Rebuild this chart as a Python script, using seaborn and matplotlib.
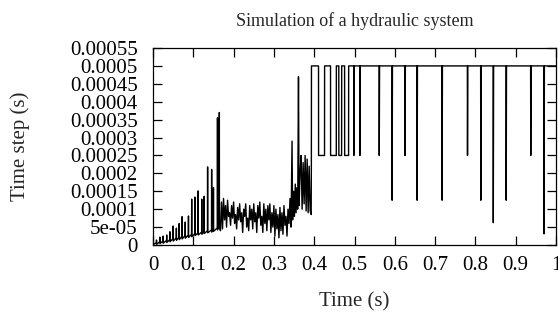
import matplotlib
matplotlib.use('Agg')
import matplotlib.pyplot as plt
import seaborn as sns
import pandas as pd

# early phase: sawtooth spikes (time, peak, value before spike, value after drop)
spike_t = [0.0087, 0.017, 0.025, 0.034, 0.042, 0.050, 0.058, 0.065, 0.072, 0.080,
           0.088, 0.096, 0.104, 0.112, 0.121, 0.127, 0.1355, 0.1455, 0.150, 0.160, 0.1646]
spike_peak = [1.4e-5, 2.2e-5, 2.5e-5, 2.8e-5, 3.7e-5, 5.3e-5, 4.7e-5, 6.0e-5, 7.9e-5, 6.4e-5,
              8.1e-5, 1.28e-4, 1.34e-4, 1.51e-4, 1.28e-4, 1.36e-4, 2.18e-4, 2.11e-4, 1.6e-4, 3.55e-4, 3.7e-4]
spike_pre = [6e-6, 9e-6, 1.1e-5, 1.3e-5, 1.5e-5, 1.8e-5, 2.0e-5, 2.2e-5, 2.4e-5, 2.6e-5,
             2.8e-5, 3.0e-5, 3.2e-5, 3.4e-5, 3.6e-5, 3.8e-5, 4.0e-5, 4.2e-5, 4.4e-5, 4.8e-5, 5.2e-5]
spike_low = [2e-6, 4e-6, 5e-6, 7e-6, 9e-6, 1.1e-5, 1.3e-5, 1.5e-5, 1.7e-5, 1.9e-5,
             2.1e-5, 2.3e-5, 2.6e-5, 2.8e-5, 3.0e-5, 3.2e-5, 3.4e-5, 3.6e-5, 3.8e-5, 4.2e-5, 4.8e-5]

# noisy middle phase
mid_t = [0.1675, 0.170, 0.1725, 0.175, 0.1775, 0.180, 0.1825, 0.185, 0.1875, 0.190,
         0.1925, 0.195, 0.1975, 0.200, 0.2025, 0.205, 0.2075, 0.210, 0.2125, 0.215,
         0.2175, 0.220, 0.2225, 0.225, 0.2275, 0.230, 0.2325, 0.235, 0.2375, 0.240,
         0.2425, 0.245, 0.2475, 0.250, 0.2525, 0.255, 0.2575, 0.260, 0.2625, 0.265,
         0.2675, 0.270, 0.2725, 0.275, 0.2775, 0.280, 0.2825, 0.285, 0.2875, 0.290,
         0.2925, 0.295, 0.2975, 0.300, 0.3025, 0.305, 0.3075, 0.310, 0.3125, 0.315,
         0.3175, 0.320, 0.3225, 0.325, 0.3275, 0.330, 0.3325, 0.335, 0.3375, 0.340,
         0.3425, 0.345, 0.3465, 0.349, 0.351, 0.353, 0.355, 0.357, 0.359, 0.361,
         0.3625, 0.365, 0.3675, 0.370, 0.3725, 0.375, 0.3775, 0.380, 0.3825, 0.385,
         0.3875, 0.390, 0.3925]
mid_dt = [4.0e-5, 1.2e-4, 4.5e-5, 1.3e-4, 7.0e-5, 1.1e-4, 5.0e-5, 1.25e-4, 8.0e-5, 9.0e-5,
          5.5e-5, 1.1e-4, 7.5e-5, 1.2e-4, 6.0e-5, 8.5e-5, 4.5e-5, 1.05e-4, 7.0e-5, 1.15e-4,
          6.5e-5, 9.0e-5, 3.5e-5, 1.0e-4, 8.0e-5, 1.15e-4, 5.0e-5, 7.5e-5, 4.0e-5, 1.1e-4,
          7.0e-5, 1.0e-4, 4.5e-5, 1.15e-4, 6.5e-5, 9.0e-5, 3.5e-5, 1.1e-4, 7.5e-5, 1.2e-4,
          5.5e-5, 8.0e-5, 3.5e-5, 1.15e-4, 6.0e-5, 1.0e-4, 4.0e-5, 1.1e-4, 7.0e-5, 1.15e-4,
          3.5e-5, 9.0e-5, 5.0e-5, 1.1e-4, 2.5e-5, 1.0e-4, 4.5e-5, 8.5e-5, 2.0e-5, 1.05e-4,
          4.0e-5, 9.0e-5, 3.0e-5, 1.1e-4, 5.5e-5, 8.0e-5, 2.5e-5, 1.0e-4, 6.0e-5, 1.3e-4,
          5.0e-5, 2.9e-4, 7.0e-5, 1.5e-4, 8.0e-5, 1.7e-4, 9.0e-5, 1.6e-4, 1.0e-4, 4.7e-4,
          1.1e-4, 2.0e-4, 2.5e-4, 1.0e-4, 2.3e-4, 1.15e-4, 2.5e-4, 9.5e-5, 2.4e-4, 9.0e-5,
          2.2e-4, 9.5e-5, 8.5e-5]

# square wave between 0.00025 and 0.0005
plat_t = [0.393, 0.3932, 0.4107, 0.4109, 0.4256, 0.4258, 0.4405, 0.4407, 0.4548,
          0.4550, 0.4610, 0.4612, 0.4680, 0.4682, 0.4754, 0.4756, 0.4853, 0.4855]
plat_dt = [2.5e-4, 5e-4, 5e-4, 2.5e-4, 2.5e-4, 5e-4, 5e-4, 2.5e-4, 2.5e-4,
           5e-4, 5e-4, 2.5e-4, 2.5e-4, 5e-4, 5e-4, 2.5e-4, 2.5e-4, 5e-4]

# dips from the max step
dip_t = [0.498, 0.513, 0.561, 0.593, 0.625, 0.655, 0.717, 0.780, 0.813, 0.844, 0.876, 0.937, 0.970]
dip_min = [2.5e-4, 2.5e-4, 2.5e-4, 1.25e-4, 2.5e-4, 1.25e-4, 1.25e-4, 2.5e-4, 1.25e-4,
           6.25e-5, 1.25e-4, 2.5e-4, 3.125e-5]
dt_max = 5e-4
t_end = 1.0

yticks = [0, 5e-5, 1e-4, 1.5e-4, 2e-4, 2.5e-4, 3e-4, 3.5e-4, 4e-4, 4.5e-4, 5e-4, 5.5e-4]
ytick_labels = ['0', '5e-05', '0.0001', '0.00015', '0.0002', '0.00025', '0.0003',
                '0.00035', '0.0004', '0.00045', '0.0005', '0.00055']
xticks = [0, 0.1, 0.2, 0.3, 0.4, 0.5, 0.6, 0.7, 0.8, 0.9, 1]
xtick_labels = ['0', '0.1', '0.2', '0.3', '0.4', '0.5', '0.6', '0.7', '0.8', '0.9', '1']

# assemble the trace
t = [0.0]
dt = [1e-6]
for st, pk, pre, lo in zip(spike_t, spike_peak, spike_pre, spike_low):
    t += [st - 0.0003, st, st + 0.0003]
    dt += [pre, pk, lo]
t += mid_t + plat_t
dt += mid_dt + plat_dt
for dtt, lo in zip(dip_t, dip_min):
    t += [dtt, dtt + 0.0004, dtt + 0.0012]
    dt += [dt_max, lo, dt_max]
t.append(t_end)
dt.append(dt_max)
df = pd.DataFrame({'t': t, 'dt': dt})

sns.set_style('ticks')
plt.rcParams['font.family'] = ['Liberation Serif', 'DejaVu Serif']
plt.rcParams['axes.linewidth'] = 0.9

fig = plt.figure(figsize=(5.58, 3.23), dpi=100)
ax = fig.add_axes([153 / 558, 78 / 323, 403 / 558, 197 / 323])
sns.lineplot(data=df, x='t', y='dt', ax=ax, color='black', linewidth=1.0,
             estimator=None, sort=False)

ax.set_xlim(0, 1)
ax.set_ylim(0, 0.00055)
ax.set_xticks(xticks)
ax.set_xticklabels(xtick_labels)
ax.set_yticks(yticks)
ax.set_yticklabels(ytick_labels)
ax.tick_params(direction='in', top=True, right=True, length=6.5, width=0.9,
               labelsize=15, colors='black')
ax.tick_params(axis='x', pad=8)
ax.tick_params(axis='y', pad=11)
for s in ax.spines.values():
    s.set_visible(True)
    s.set_color('black')

ax.set_title('Simulation of a hydraulic system', fontsize=13, pad=16)
ax.set_xlabel('Time (s)', fontsize=15, labelpad=12)
ax.set_ylabel('Time step (s)', fontsize=15)
ax.yaxis.set_label_coords(-0.305, 0.5)

fig.savefig('out.png', dpi=100)
